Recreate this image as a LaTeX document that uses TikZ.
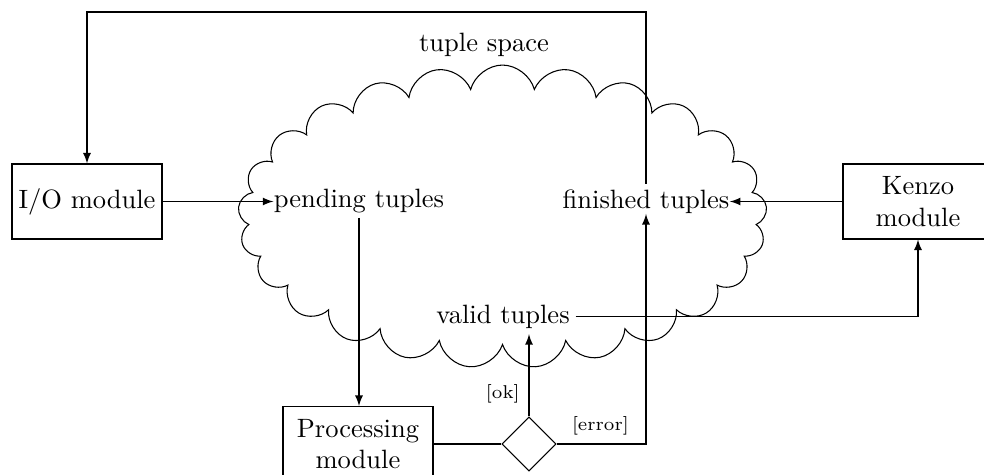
\documentclass[tikz,border=0pt]{standalone}
\usetikzlibrary{shapes.symbols,shapes.geometric,arrows}
\begin{document}
\begin{tikzpicture}[x=0.3774pt,y=-0.3774pt,>=latex,
  box/.style={draw, minimum width=56.6pt, minimum height=28.3pt, align=center, inner sep=2pt},
  tup/.style={inner sep=0pt},
  lbl/.style={font=\scriptsize},
  cloudshape/.style={draw, cloud, cloud puffs=25, minimum width=199.6pt, minimum height=114.3pt, inner sep=0pt},
  dec/.style={draw, diamond, minimum width=20.4pt, minimum height=20.4pt, inner sep=0pt, aspect=1}]
\useasboundingbox (0,0) rectangle (984,475);
\clip (0,0) rectangle (984,475);
\node[cloudshape] (cloud) at (502.5,216.5) {};
\node (ts) at (484,44.5) {tuple space};
\node[tup] (pending) at (359,201.5) {pending tuples};
\node[tup] (finished) at (646,201.5) {finished tuples};
\node[tup, inner sep=2pt] (valid) at (503,316.5) {valid tuples};
\node[box] (io) at (87,201.5) {I/O module};
\node[box] (kenzo) at (918,201.5) {Kenzo\\module};
\node[box] (proc) at (358,444) {Processing\\module};
\node[dec] (dia) at (529,444) {};
\coordinate (top) at (0,12);
\draw[->] (io) -- (pending);
\draw[->] (kenzo) -- (finished);
\draw[->, shorten <=1.5pt] (pending.south) -- (pending.south |- proc.north);
\draw (proc) -- (dia);
\draw[->] (dia.north) -- (dia.north |- valid.south) node[lbl, pos=0.28, left] {[ok]};
\draw[->] (dia.east) -| (finished.south) node[lbl, pos=0.245, above] {[error]};
\draw[->] (valid.east) -| (kenzo.south);
\draw[->, shorten <=2pt] (finished.north) -- (finished.north |- top) -| (io.north);
\end{tikzpicture}
\end{document}
